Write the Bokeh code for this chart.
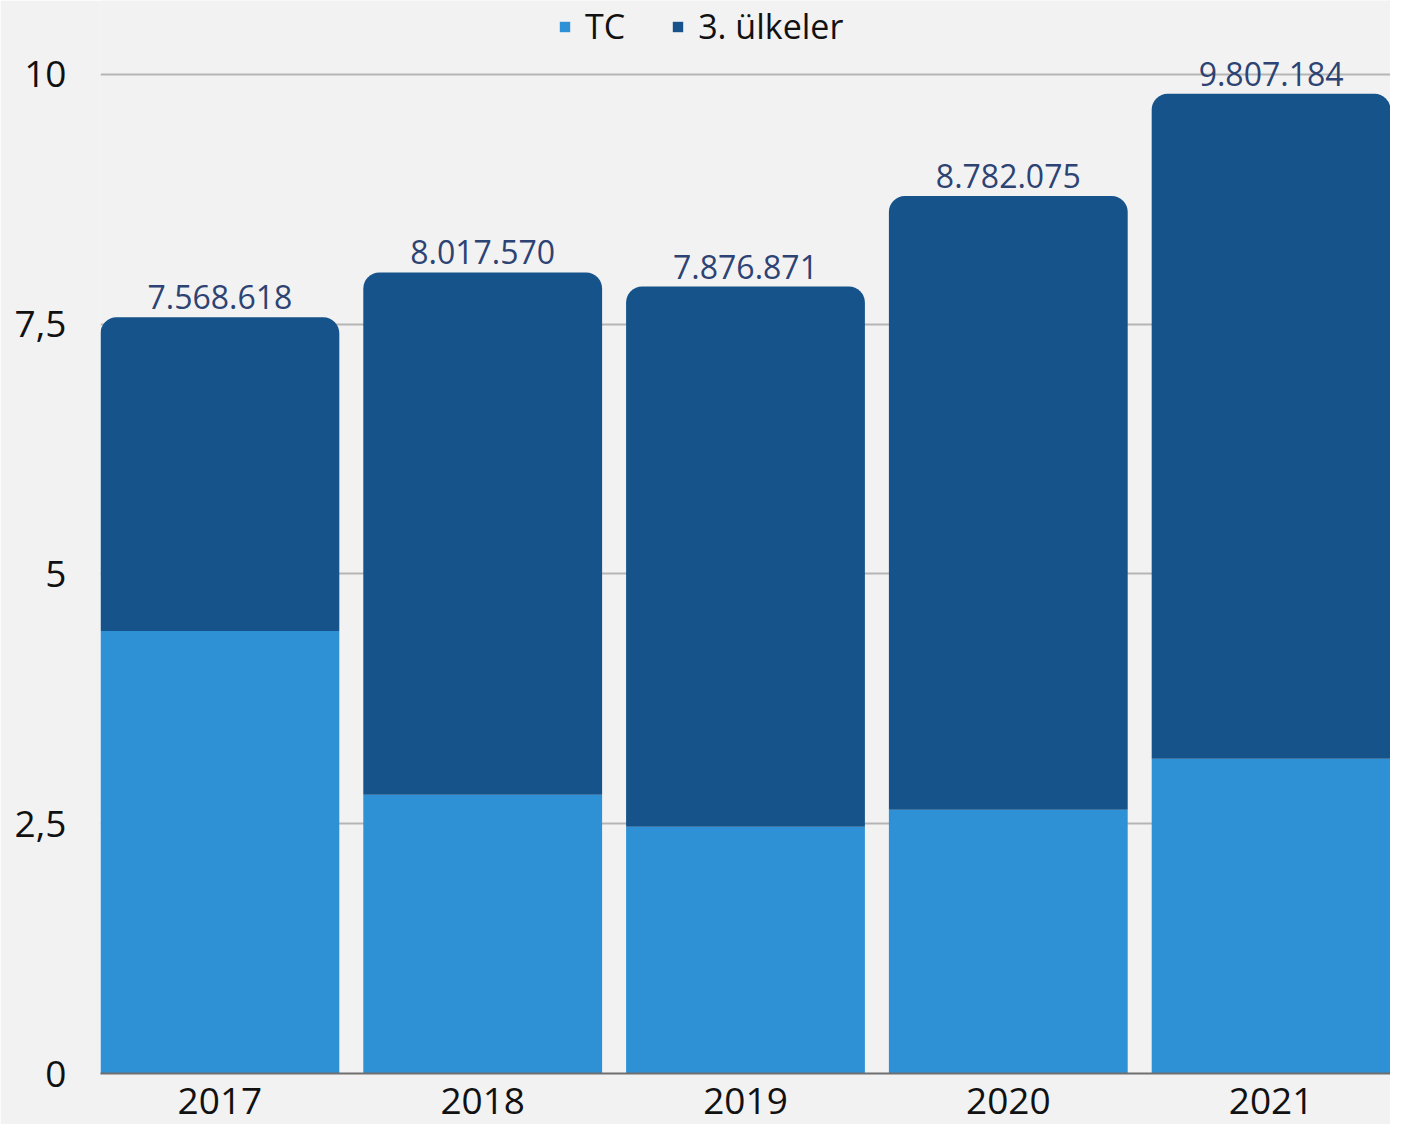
from bokeh.plotting import figure
from bokeh.models import Range1d, FixedTicker, Legend, LegendItem, ColumnDataSource, CustomJSTickFormatter
from bokeh.core.properties import value
from bokeh.embed import file_html
from bokeh.resources import INLINE

years = ["2017", "2018", "2019", "2020", "2021"]
tc = [4.43, 2.79, 2.47, 2.64, 3.15]
totals = [7.568618, 8.017570, 7.876871, 8.782075, 9.807184]
total_labels = ["7.568.618", "8.017.570", "7.876.871", "8.782.075", "9.807.184"]
y_ticks = [0, 2.5, 5, 7.5, 10]
series_names = ["TC", "3. ülkeler"]

FONT = "Open Sans"
C_TC = "#2e91d6"
C_3U = "#15538a"

src = ColumnDataSource(dict(x=list(range(len(years))), tc=tc, total=totals, lab=total_labels))

bw = 0.9087
p = figure(width=1390, height=1124, output_backend="svg", toolbar_location=None,
           x_range=Range1d(-bw / 2, len(years) - 1 + bw / 2), y_range=Range1d(0, 10.74),
           min_border_left=100, min_border_right=0, min_border_top=0, min_border_bottom=51)

p.background_fill_color = "#f2f2f2"
p.border_fill_color = "#f2f2f2"
p.outline_line_color = None

r_tc = p.vbar(x="x", bottom=0, top="tc", width=bw, source=src, fill_color=C_TC, line_color=None)
r_3u = p.vbar(x="x", bottom="tc", top="total", width=bw, source=src, fill_color=C_3U, line_color=None,
              border_radius=(16, 16, 0, 0))

p.text(x="x", y="total", text="lab", source=src, text_align="center", text_baseline="alphabetic",
       y_offset=-20, text_font=value(FONT), text_font_size="32px", text_color="#2d4373")

p.xgrid.visible = False
p.ygrid.ticker = FixedTicker(ticks=[t for t in y_ticks if t > 0])
p.ygrid.grid_line_color = "#b5b5b5"
p.ygrid.grid_line_width = 2

p.yaxis.ticker = FixedTicker(ticks=y_ticks)
p.yaxis.formatter = CustomJSTickFormatter(code="return tick.toString().replace('.', ',');")
p.yaxis.axis_line_color = None
p.yaxis.major_tick_line_color = None
p.yaxis.minor_tick_line_color = None
p.yaxis.major_label_standoff = 28
p.yaxis.major_label_text_font = FONT
p.yaxis.major_label_text_font_size = "37px"
p.yaxis.major_label_text_color = "#111111"

p.xaxis.ticker = FixedTicker(ticks=list(range(len(years))))
p.xaxis.major_label_overrides = {i: y for i, y in enumerate(years)}
p.xaxis.axis_line_color = "#6e6e6e"
p.xaxis.axis_line_width = 2
p.xaxis.major_tick_line_color = None
p.xaxis.minor_tick_line_color = None
p.xaxis.major_label_standoff = 8
p.xaxis.major_label_text_font = FONT
p.xaxis.major_label_text_font_size = "37px"
p.xaxis.major_label_text_color = "#111111"

legend = Legend(items=[LegendItem(label=series_names[0], renderers=[r_tc]),
                       LegendItem(label=series_names[1], renderers=[r_3u])],
                orientation="horizontal", location=(458, 1023))
legend.glyph_width = 13
legend.glyph_height = 13
legend.label_standoff = 14
legend.spacing = 46
legend.padding = 0
legend.margin = 0
legend.label_height = 48
legend.label_text_font = FONT
legend.label_text_font_size = "34px"
legend.label_text_color = "#111111"
legend.border_line_color = None
legend.background_fill_alpha = 0
p.add_layout(legend, "center")

open("out.html", "w").write(file_html(p, INLINE))
